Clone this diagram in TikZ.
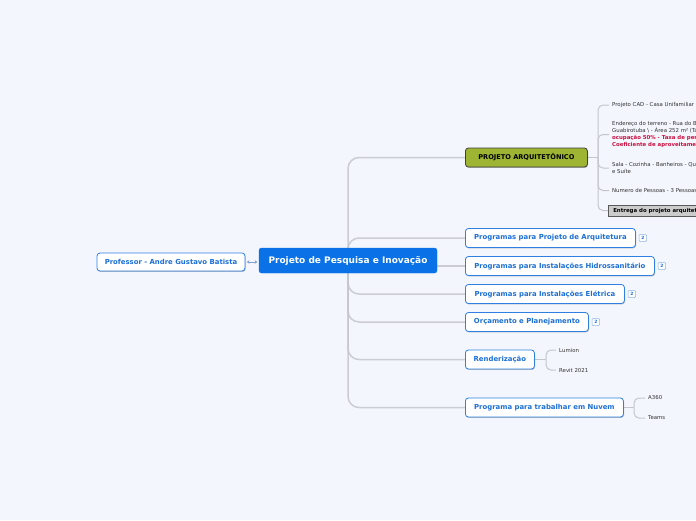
\documentclass[tikz,border=0pt]{standalone}
\usepackage{fontspec}
\setmainfont{DejaVu Sans}
\usetikzlibrary{shadows,arrows.meta}
\definecolor{bgc}{HTML}{F3F6FD}
\definecolor{cblue}{HTML}{0A72E6}
\definecolor{tblue}{HTML}{1C6FD6}
\definecolor{bblue}{HTML}{2F80E2}
\definecolor{olive}{HTML}{9DB532}
\definecolor{linec}{HTML}{C4C6CC}
\definecolor{subtxt}{HTML}{333333}
\definecolor{redtxt}{HTML}{CC1040}
\definecolor{badgec}{HTML}{8FB3E6}
\definecolor{arrc}{HTML}{7F9FD0}
\pgfdeclarelayer{bgfill}
\pgfdeclarelayer{lines}
\pgfsetlayers{bgfill,lines,main}
\tikzset{
  shad/.style={drop shadow={shadow xshift=0.6pt,shadow yshift=-0.9pt,fill=black,opacity=0.25}},
  central/.style={fill=cblue,draw=cblue,rounded corners=2.5pt,text=white,
    font=\fontsize{9}{10}\selectfont\bfseries,minimum width=178pt,minimum height=25pt,inner sep=0pt},
  topic/.style={fill=white,draw=bblue,line width=0.8pt,rounded corners=3pt,text=tblue,shad,
    font=\fontsize{6.9}{8}\selectfont\bfseries,minimum height=19pt,inner sep=0pt,anchor=west},
  greentopic/.style={fill=olive,draw=black!75,line width=0.8pt,rounded corners=3pt,text=black,shad,
    font=\fontsize{6.6}{8}\selectfont\bfseries,minimum height=19pt,inner sep=0pt,anchor=west},
  badge/.style={fill=white,draw=badgec,line width=0.5pt,rounded corners=1pt,text=tblue,
    font=\fontsize{4.4}{5}\selectfont\bfseries,minimum width=7.5pt,minimum height=7pt,inner sep=0pt,anchor=west},
  subt/.style={text=subtxt,font=\fontsize{5.4}{7}\selectfont,inner xsep=3pt,inner ysep=1pt,anchor=west,align=left},
  graybox/.style={fill=black!20,draw=black!65,line width=0.6pt,text=black,shad,
    font=\fontsize{5.4}{7}\selectfont\bfseries,minimum height=11pt,inner xsep=5pt,inner ysep=0pt,anchor=west},
  conn/.style={draw=linec,line width=1.5pt,rounded corners=11pt,opacity=0.85},
  subconn/.style={draw=linec,line width=1pt,rounded corners=5pt},
  profarrow/.style={draw=arrc,line width=0.5pt,{Stealth[length=2.5pt,width=3.5pt]}-{Stealth[length=2.5pt,width=3.5pt]},shorten <=1.5pt,shorten >=1.5pt}
}
\begin{document}
\begin{tikzpicture}[x=1pt,y=-1pt]
\begin{pgfonlayer}{bgfill}
\fill[bgc] (0,0) rectangle (696,520);
\end{pgfonlayer}
\useasboundingbox (0,0) rectangle (696,520);

% central and professor
\node[central] (c) at (348,260.5) {Projeto de Pesquisa e Inovação};
\node[topic,anchor=center,minimum width=148pt,minimum height=18pt] (prof) at (171,262) {Professor - Andre Gustavo Batista};
\draw[profarrow] (prof.east) -- (c.west |- prof.east);

% main topics
\node[greentopic,minimum width=122pt] (pa) at (465,157.5) {PROJETO ARQUITETÔNICO};
\node[topic,minimum width=170pt] (p1) at (465,238) {Programas para Projeto de Arquitetura};
\node[topic,minimum width=189pt] (p2) at (465,266) {Programas para Instalações Hidrossanitário};
\node[topic,minimum width=159pt] (p3) at (465,294) {Programas para Instalações Elétrica};
\node[topic,minimum width=123pt] (p4) at (465,322) {Orçamento e Planejamento};
\node[topic,minimum width=69pt] (r) at (465,359.5) {Renderização};
\node[topic,minimum width=158pt] (n) at (465,407.5) {Programa para trabalhar em Nuvem};

% badges
\node[badge] (b1) at ([xshift=3pt]p1.east) {2};
\node[badge] (b2) at ([xshift=3pt]p2.east) {2};
\node[badge] (b3) at ([xshift=3pt]p3.east) {2};
\node[badge] (b4) at ([xshift=3pt]p4.east) {2};

% main connectors
\begin{pgfonlayer}{lines}
\foreach \t in {pa,p1,p3,p4,r,n}{
  \draw[conn] (c.center) |- (\t.west);
}
\draw[conn] (c.east |- p2.west) -- (p2.west);
\end{pgfonlayer}

% children of PROJETO ARQUITETONICO
\coordinate (paj) at (598,157.5);
\node[subt] (pa1) at (609,105) {Projeto CAD - Casa Unifamiliar};
\node[subt] (pa2) at (609,134.5) {Endereço do terreno - Rua do Bispo\\Guabirotuba \textbackslash{} - Área 252 m² (Taxa de\\\textcolor{redtxt}{\bfseries ocupação 50\% - Taxa de permeabilidade}\\\textcolor{redtxt}{\bfseries Coeficiente de aproveitamento}};
\node[subt] (pa3) at (609,168) {Sala - Cozinha - Banheiros - Quartos\\e Suíte};
\node[subt] (pa4) at (609,190.5) {Numero de Pessoas - 3 Pessoas};
\node[graybox] (pa5) at (608,210.5) {Entrega do projeto arquitetônico};
\begin{pgfonlayer}{lines}
\draw[subconn] (pa.east) -- (paj);
\foreach \t in {pa1,pa2,pa3,pa4,pa5}{
  \draw[subconn] (paj) |- (\t.west);
}
\end{pgfonlayer}

% children of Renderizacao
\coordinate (rj) at (546,359.5);
\node[subt] (r1) at (556,350) {Lumion};
\node[subt] (r2) at (556,370) {Revit 2021};
\begin{pgfonlayer}{lines}
\draw[subconn] (r.east) -- (rj);
\draw[subconn] (rj) |- (r1.west);
\draw[subconn] (rj) |- (r2.west);
\end{pgfonlayer}

% children of Nuvem
\coordinate (nj) at (634,407.5);
\node[subt] (n1) at (645,398) {A360};
\node[subt] (n2) at (645,418) {Teams};
\begin{pgfonlayer}{lines}
\draw[subconn] (n.east) -- (nj);
\draw[subconn] (nj) |- (n1.west);
\draw[subconn] (nj) |- (n2.west);
\end{pgfonlayer}
\end{tikzpicture}
\end{document}
